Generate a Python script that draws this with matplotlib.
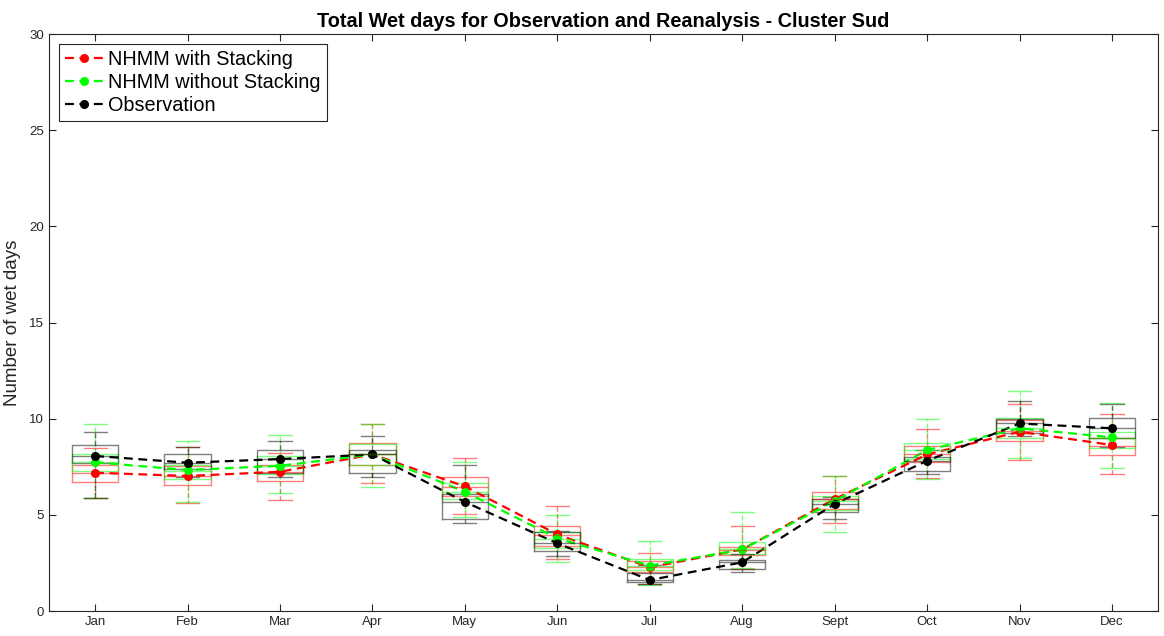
import numpy as np
import matplotlib
matplotlib.use("Agg")
import matplotlib.pyplot as plt

plt.rcParams["font.family"] = ["Liberation Sans", "DejaVu Sans"]

months = ["Jan", "Feb", "Mar", "Apr", "May", "Jun",
          "Jul", "Aug", "Sept", "Oct", "Nov", "Dec"]

# NHMM with stacking: whisker low, q1, median, q3, whisker high, mean
stk_lo = [5.86, 5.60, 5.77, 6.67, 5.03, 2.70, 1.40, 2.20, 4.56, 6.93, 7.85, 7.10]
stk_q1 = [6.72, 6.56, 6.76, 7.60, 6.00, 3.40, 2.05, 2.90, 5.30, 7.76, 8.84, 8.11]
stk_med = [7.20, 7.00, 7.25, 8.14, 6.45, 3.95, 2.30, 3.15, 5.80, 8.15, 9.35, 8.60]
stk_q3 = [7.60, 7.55, 7.59, 8.71, 6.98, 4.42, 2.60, 3.34, 6.17, 8.59, 9.93, 9.00]
stk_hi = [8.50, 8.51, 8.20, 9.72, 7.97, 5.46, 3.00, 4.42, 7.03, 9.46, 10.74, 10.22]
stk_mean = [7.19, 7.02, 7.24, 8.14, 6.48, 3.98, 2.27, 3.20, 5.82, 8.14, 9.32, 8.63]

# NHMM without stacking
nostk_lo = [5.86, 5.65, 6.12, 6.43, 4.87, 2.56, 1.37, 2.25, 4.12, 6.85, 7.94, 7.42]
nostk_q1 = [7.30, 6.85, 7.10, 7.59, 5.80, 3.30, 2.13, 2.96, 5.25, 7.90, 8.98, 8.46]
nostk_med = [7.75, 7.30, 7.55, 8.14, 6.20, 3.75, 2.35, 3.20, 5.70, 8.35, 9.50, 9.00]
nostk_q3 = [8.15, 7.59, 8.06, 8.66, 6.67, 4.10, 2.69, 3.57, 5.99, 8.75, 10.02, 9.30]
nostk_hi = [9.70, 8.84, 9.15, 9.72, 7.74, 4.99, 3.64, 5.15, 7.03, 9.96, 11.45, 10.80]
nostk_mean = [7.73, 7.33, 7.55, 8.14, 6.20, 3.78, 2.36, 3.20, 5.72, 8.37, 9.50, 9.03]

# Observation
obs_lo = [5.90, 6.96, 6.98, 6.98, 4.56, 2.87, 1.39, 2.04, 4.77, 7.12, 9.10, 8.54]
obs_q1 = [7.68, 7.36, 7.19, 7.16, 4.78, 3.13, 1.49, 2.18, 5.13, 7.28, 9.27, 9.01]
obs_med = [8.05, 7.71, 7.90, 8.14, 5.67, 3.52, 1.61, 2.53, 5.56, 7.81, 9.75, 9.50]
obs_q3 = [8.61, 8.18, 8.37, 8.37, 6.08, 4.09, 1.99, 2.65, 5.82, 8.02, 9.98, 10.02]
obs_hi = [9.32, 8.54, 8.85, 9.11, 7.60, 4.17, 2.40, 2.96, 5.94, 8.37, 10.93, 10.76]
obs_mean = [8.06, 7.71, 7.90, 8.14, 5.67, 3.52, 1.61, 2.53, 5.56, 7.81, 9.75, 9.50]


def box_stats(lo, q1, med, q3, hi):
    return [dict(whislo=a, q1=b, med=c, q3=d, whishi=e, fliers=[])
            for a, b, c, d, e in zip(lo, q1, med, q3, hi)]


def draw_boxes(ax, stats, color):
    edge = dict(color=color, alpha=0.5, linewidth=1.0)
    ax.bxp(stats, positions=pos, widths=0.5, showfliers=False,
           boxprops=edge, medianprops=edge, capprops=edge,
           whiskerprops=dict(color=color, alpha=0.5, linewidth=1.0, linestyle="--"),
           capwidths=0.25, manage_ticks=False)


pos = np.arange(1, len(months) + 1)

fig = plt.figure(figsize=(11.64, 6.36), dpi=100)
ax = fig.add_axes([0.042, 0.0393, 0.953, 0.9072])

draw_boxes(ax, box_stats(stk_lo, stk_q1, stk_med, stk_q3, stk_hi), "red")
draw_boxes(ax, box_stats(nostk_lo, nostk_q1, nostk_med, nostk_q3, nostk_hi), (0, 1, 0))
draw_boxes(ax, box_stats(obs_lo, obs_q1, obs_med, obs_q3, obs_hi), "black")

line_kw = dict(linestyle="--", dashes=(4, 2.5), marker="o", lw=1.6, ms=5.5)
l1, = ax.plot(pos, stk_mean, color="red", label="NHMM with Stacking", **line_kw)
l2, = ax.plot(pos, nostk_mean, color=(0, 1, 0), label="NHMM without Stacking", **line_kw)
l3, = ax.plot(pos, obs_mean, color="black", label="Observation", **line_kw)

ax.set_xlim(0.5, 12.5)
ax.set_ylim(0, 30)
ax.set_xticks(pos)
ax.set_xticklabels(months)
ax.set_yticks(np.arange(0, 31, 5))
ax.tick_params(direction="in", length=5, width=0.8, colors="#262626",
               labelsize=9.5, top=True, right=True)
for s in ax.spines.values():
    s.set_color("#262626")
    s.set_linewidth(0.8)

ax.set_ylabel("Number of wet days", fontsize=13.5, color="#262626", labelpad=6)
ax.set_title("Total Wet days for Observation and Reanalysis - Cluster Sud",
             fontsize=14.3, fontweight="bold", pad=5)

leg = ax.legend(handles=[l1, l2, l3], loc="upper left", fontsize=14.3,
                fancybox=False, framealpha=1, edgecolor="#262626",
                borderaxespad=0.5, handlelength=1.9, handletextpad=0.3,
                borderpad=0.3, labelspacing=0.2)
leg.get_frame().set_linewidth(0.8)

fig.savefig("out.png", dpi=100)
